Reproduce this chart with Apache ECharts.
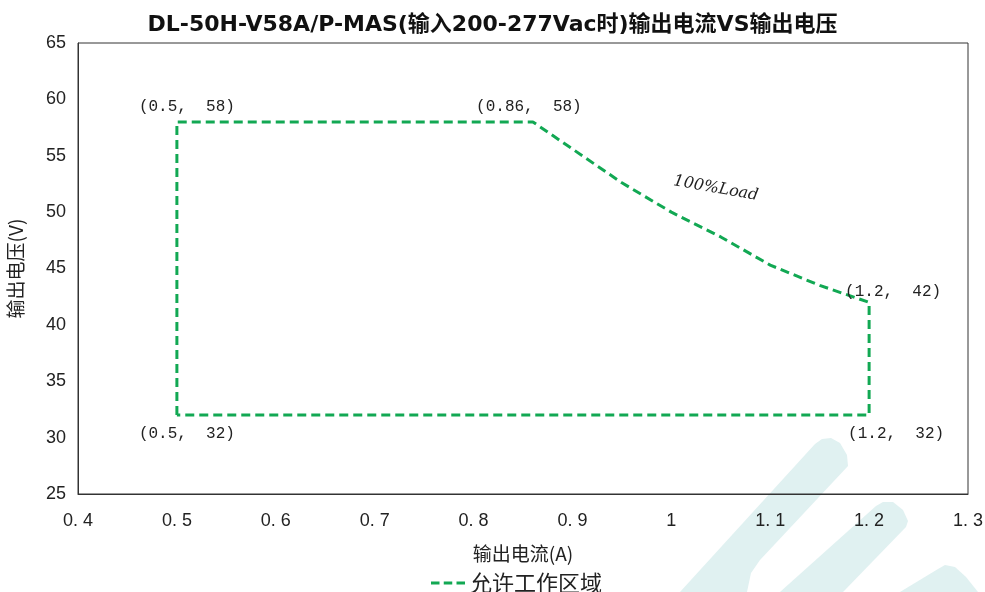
<!DOCTYPE html>
<html>
<head>
<meta charset="utf-8">
<script src="https://cdn.jsdelivr.net/npm/echarts@6/dist/echarts.min.js"></script>
<style>
  html, body { margin: 0; padding: 0; background: #fff; }
  #chart { width: 985px; height: 592px; }
</style>
</head>
<body>
<div id="chart"></div>
<script>
// Operating window of the driver: output current (A) vs output voltage (V)
const titleText = 'DL-50H-V58A/P-MAS(输入200-277Vac时)输出电流VS输出电压';
const seriesName = '允许工作区域';
const xAxisName = '输出电流(A)';
const yAxisName = '输出电压(V)';

// Boundary traced clockwise from the lower-left corner
const currentA = [0.5, 0.5, 0.86, 0.9, 0.95, 1.0, 1.05, 1.1, 1.15, 1.2, 1.2, 0.5];
const voltageV = [32, 58, 58, 55.6, 52.6, 50.0, 47.8, 45.3, 43.5, 42, 32, 32];

// Corners that carry a coordinate label (index into the arrays above) and where the label sits
const labelledIdx = [0, 1, 2, 9, 10];
const labelPlace = {
  0: { position: 'bottom', offset: [10, 6] },
  1: { position: 'top', offset: [10, -2] },
  2: { position: 'top', offset: [-4, -2] },
  9: { position: 'top', offset: [24, 2] },
  10: { position: 'bottom', offset: [27, 6] }
};

// Curve annotation
const curveNote = { text: '100%Load', x: 1.045, y: 52.1 };

// Axis ranges
const xMin = 0.4, xMax = 1.3, xStep = 0.1;
const yMin = 25, yMax = 65, yStep = 5;

const lineColor = '#12a853';
const monoFont = '"Liberation Mono", "DejaVu Sans Mono", monospace';
const cjkFont = '"Noto Sans CJK SC", sans-serif';

const points = currentA.map((x, i) => {
  const p = { value: [x, voltageV[i]] };
  if (labelledIdx.includes(i)) {
    p.label = Object.assign({
      show: true,
      formatter: '(' + x + ',  ' + voltageV[i] + ')',
      color: '#222',
      fontFamily: monoFont,
      fontSize: 16
    }, labelPlace[i]);
  }
  return p;
});

const chart = echarts.init(document.getElementById('chart'), null, { renderer: 'canvas' });

// Faint brand watermark in the lower-right corner
const wmColor = '#e0f1f1';
const watermark = [
  [[680,592],[815,444],[822,439],[831,438],[840,443],[847,455],[848,466],[760,560],[751,573],[747,592]],
  [[780,592],[876,506],[883,502],[893,502],[903,510],[908,521],[906,527],[843,592]],
  [[900,592],[938,569],[945,565],[955,567],[966,577],[978,592]]
].map(pts => ({
  type: 'polygon',
  shape: { points: pts },
  style: { fill: wmColor },
  z: -10,
  silent: true
}));

// Legend key drawn as three short dashes
const dashIcon = 'path://M0,0h8v3h-8z M12,0h8v3h-8z M24,0h8v3h-8z';

chart.setOption({
  backgroundColor: '#ffffff',
  animation: false,
  title: {
    text: titleText,
    left: 'center',
    top: 9,
    textStyle: {
      fontFamily: '"DejaVu Sans", "Noto Sans CJK SC", sans-serif',
      fontWeight: 'bold',
      fontSize: 22,
      color: '#111'
    }
  },
  graphic: watermark,
  grid: {
    left: 78,
    right: 17,
    top: 43,
    bottom: 98,
    outerBoundsMode: 'none',
    show: true,
    borderColor: '#333',
    borderWidth: 1,
    backgroundColor: 'transparent'
  },
  legend: {
    data: [{ name: seriesName, icon: dashIcon }],
    bottom: -7,
    left: 426,
    itemWidth: 34,
    itemHeight: 4,
    itemGap: 6,
    textStyle: {
      fontFamily: cjkFont,
      fontSize: 22,
      color: '#222'
    }
  },
  xAxis: {
    type: 'value',
    min: xMin,
    max: xMax,
    interval: xStep,
    name: xAxisName,
    nameLocation: 'middle',
    nameGap: 50,
    nameTextStyle: {
      fontFamily: cjkFont,
      fontSize: 19,
      color: '#222'
    },
    axisLine: { show: true, lineStyle: { color: '#333', width: 1 } },
    axisTick: { show: false },
    splitLine: { show: false },
    axisLabel: {
      margin: 18,
      fontFamily: '"Liberation Sans", sans-serif',
      fontSize: 18,
      color: '#222',
      formatter: v => {
        const s = String(Math.round(v * 10) / 10);
        return s.replace('.', '. ');
      }
    }
  },
  yAxis: {
    type: 'value',
    min: yMin,
    max: yMax,
    interval: yStep,
    name: yAxisName,
    nameLocation: 'middle',
    nameGap: 53,
    nameRotate: 90,
    nameTextStyle: {
      fontFamily: cjkFont,
      fontSize: 19,
      color: '#222'
    },
    axisLine: { show: true, lineStyle: { color: '#333', width: 1 } },
    axisTick: { show: false },
    splitLine: { show: false },
    axisLabel: {
      margin: 12,
      fontFamily: '"Liberation Sans", sans-serif',
      fontSize: 18,
      color: '#222'
    }
  },
  series: [{
    name: seriesName,
    type: 'line',
    data: points,
    showSymbol: true,
    symbol: 'circle',
    symbolSize: 0,
    smooth: false,
    z: 3,
    lineStyle: {
      color: lineColor,
      width: 3,
      type: [9, 5]
    },
    itemStyle: { color: lineColor },
    markPoint: {
      symbol: 'circle',
      symbolSize: 0,
      silent: true,
      data: [{
        coord: [curveNote.x, curveNote.y],
        label: {
          show: true,
          formatter: curveNote.text,
          rotate: -10,
          fontStyle: 'italic',
          fontFamily: '"DejaVu Serif", serif',
          fontSize: 16,
          color: '#222'
        }
      }]
    }
  }]
});
</script>
</body>
</html>
